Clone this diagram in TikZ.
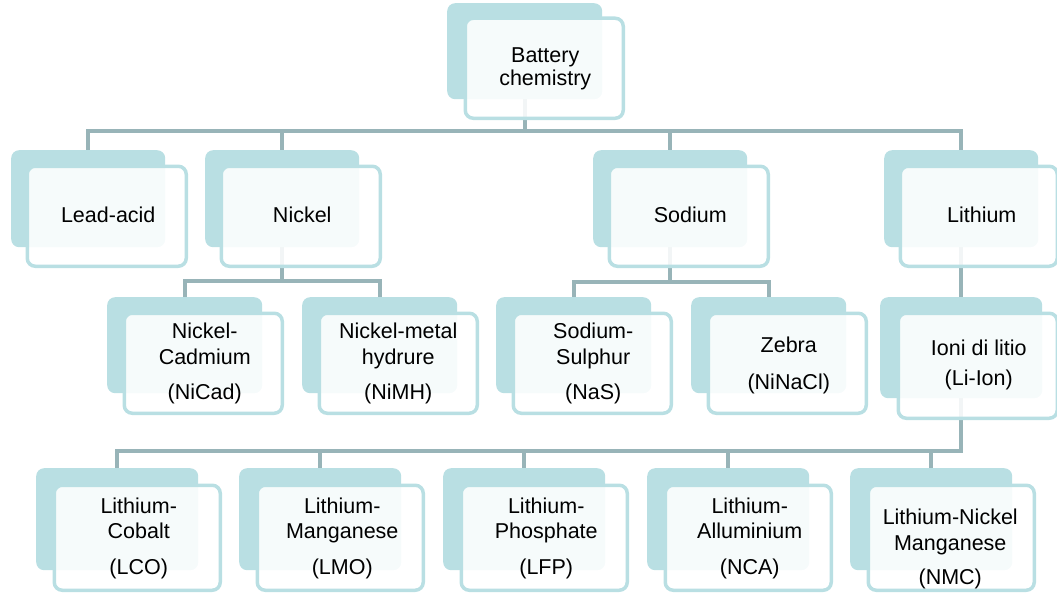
\documentclass[tikz,border=0pt]{standalone}
\usepackage{fontspec}
\setmainfont{Liberation Sans}
\usetikzlibrary{backgrounds}
\definecolor{bk}{RGB}{185,223,227}
\definecolor{cn}{RGB}{152,180,184}
\newcommand\lbfont{\fontsize{21.5}{25}\selectfont}
% name, back x, back y, back w, back h, front x, front y, front w, front h (front = border centre line)
\newcommand\cell[9]{%
  \node[backbox, minimum width=#4pt, minimum height=#5pt] (#1-b) at (#2,#3) {};
  \node[frontbox, minimum width=#8pt, minimum height=#9pt] (#1) at (#6,#7) {};
}
\tikzset{
  backbox/.style={rectangle, rounded corners=8pt, fill=bk, draw=none, inner sep=0pt, anchor=north west},
  frontbox/.style={rectangle, rounded corners=8pt, fill=white, fill opacity=0.88, draw=bk, line width=3.5pt, inner sep=0pt, anchor=north west},
  lbl/.style={font=\lbfont, align=center, inner sep=0pt, text=black},
  conn/.style={draw=cn, line width=4pt, line cap=rect}
}
\begin{document}
\begin{tikzpicture}[x=1pt,y=-1pt]
\useasboundingbox (0,0) rectangle (1057,594);
\coordinate (bus1) at (0,131);
\coordinate (bus2n) at (0,281);
\coordinate (bus2s) at (0,282);
\coordinate (bus3) at (0,451);
% level 0
\cell{bat}{447}{3}{155}{96}{463.5}{16.5}{158}{100}
% level 1
\cell{lead}{11}{150}{154}{97}{25.5}{164.5}{159}{100}
\cell{nick}{205}{150}{154}{97}{219.5}{164.5}{159}{100}
\cell{sod}{593}{150}{154}{97}{607.5}{164.5}{159}{100}
\cell{lith}{884}{150}{154}{97}{898.5}{164.5}{157}{100}
% level 2
\cell{nicad}{107}{297}{155}{96}{122.5}{311.5}{158}{100}
\cell{nimh}{302}{297}{155}{96}{317.5}{311.5}{158}{100}
\cell{nas}{496}{297}{155}{96}{511.5}{311.5}{158}{100}
\cell{zeb}{691}{297}{155}{96}{706.5}{311.5}{158}{100}
\cell{ion}{880}{297}{162}{101}{896.5}{311.5}{159}{105}
% level 3
\cell{lco}{36}{468}{162}{102}{52.5}{483.5}{166}{105}
\cell{lmo}{239}{468}{162}{102}{255.5}{483.5}{166}{105}
\cell{lfp}{443}{468}{162}{102}{459.5}{483.5}{166}{105}
\cell{nca}{647}{468}{162}{102}{663.5}{483.5}{166}{105}
\cell{nmc}{850}{468}{162}{102}{866.5}{483.5}{166}{105}
% texts
\node[lbl] (t-bat) at ([xshift=1pt,yshift=-1pt]bat.center) {Battery\\[-2pt]chemistry};
\node[lbl] (t-lead) at ([xshift=1.5pt,yshift=1pt]lead.center) {Lead-acid};
\node[lbl] (t-nick) at ([xshift=1.5pt,yshift=1pt]nick.center) {Nickel};
\node[lbl] (t-sod) at ([xshift=1.5pt,yshift=1pt]sod.center) {Sodium};
\node[lbl] (t-lith) at ([xshift=3pt,yshift=1pt]lith.center) {Lithium};
\node[lbl] (t-nicad) at ([xshift=1.5pt]nicad.center) {Nickel-\\[1pt]Cadmium\\[10pt](NiCad)};
\node[lbl] (t-nimh) at ([xshift=0pt]nimh.center) {Nickel-metal\\[1pt]hydrure\\[10pt](NiMH)};
\node[lbl] (t-nas) at ([xshift=1pt]nas.center) {Sodium-\\[1pt]Sulphur\\[10pt](NaS)};
\node[lbl] (t-zeb) at ([xshift=1.5pt,yshift=-2pt]zeb.center) {Zebra\\[12pt](NiNaCl)};
\node[lbl] (t-ion) at ([xshift=1pt,yshift=1pt]ion.center) {Ioni di litio\\[5pt](Li-Ion)};
\node[lbl] (t-lco) at ([xshift=1.5pt,yshift=-1pt]lco.center) {Lithium-\\Cobalt\\[11pt](LCO)};
\node[lbl] (t-lmo) at ([xshift=2pt,yshift=-1pt]lmo.center) {Lithium-\\Manganese\\[11pt](LMO)};
\node[lbl] (t-lfp) at ([xshift=2pt,yshift=-1pt]lfp.center) {Lithium-\\Phosphate\\[11pt](LFP)};
\node[lbl] (t-nca) at ([xshift=1.5pt,yshift=-1pt]nca.center) {Lithium-\\Alluminium\\[11pt](NCA)};
\node[lbl] (t-nmc) at ([xshift=-1pt,yshift=-11pt]nmc.center) {Lithium-Nickel\\[1pt]Manganese\\[9pt](NMC)};
% connectors beneath the boxes
\begin{pgfonlayer}{background}
  % root to level 1
  \draw[conn] (bat-b.south) -- (bat-b.south |- bus1);
  \draw[conn] (lead-b.north |- bus1) -- (lith-b.north |- bus1);
  \foreach \n in {lead,nick,sod,lith}
    \draw[conn] (\n-b.north |- bus1) -- (\n-b.north);
  % nickel
  \draw[conn] (nick-b.south) -- (nick-b.south |- bus2n);
  \draw[conn] (nicad-b.north |- bus2n) -- (nimh-b.north |- bus2n);
  \foreach \n in {nicad,nimh}
    \draw[conn] (\n-b.north |- bus2n) -- (\n-b.north);
  % sodium
  \draw[conn] (sod-b.south) -- (sod-b.south |- bus2s);
  \draw[conn] (nas-b.north |- bus2s) -- (zeb-b.north |- bus2s);
  \foreach \n in {nas,zeb}
    \draw[conn] (\n-b.north |- bus2s) -- (\n-b.north);
  % lithium
  \draw[conn] (lith-b.south) -- (ion-b.north);
  \draw[conn] (ion-b.south) -- (ion-b.south |- bus3);
  \draw[conn] (lco-b.north |- bus3) -- (ion-b.south |- bus3);
  \foreach \n in {lco,lmo,lfp,nca,nmc}
    \draw[conn] (\n-b.north |- bus3) -- (\n-b.north);
\end{pgfonlayer}
\end{tikzpicture}
\end{document}
